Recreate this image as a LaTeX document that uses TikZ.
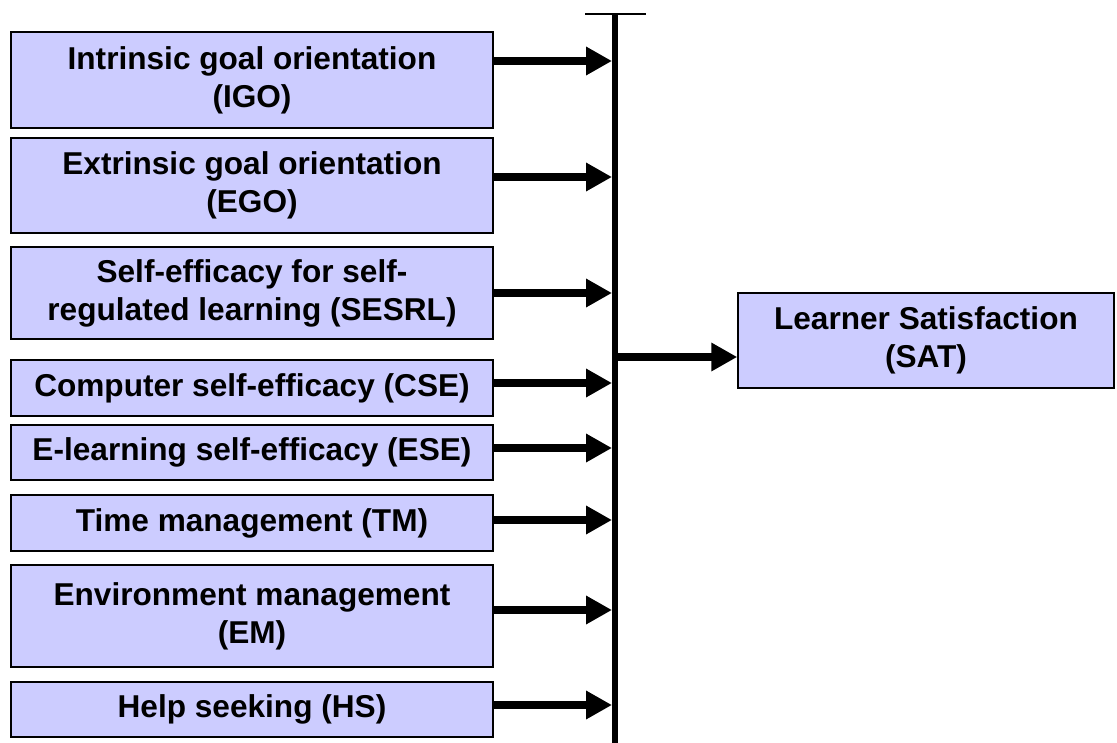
\documentclass[tikz,border=0pt]{standalone}
\usepackage{fontspec}
\setmainfont{Liberation Sans}
\usetikzlibrary{arrows.meta}
\definecolor{boxfill}{HTML}{CCCCFF}
\begin{document}
\begin{tikzpicture}[x=1pt,y=-1pt,
  factor/.style={draw=black,line width=1.5pt,fill=boxfill,minimum width=482pt,inner sep=0pt,
    align=center,font=\fontsize{31.6}{38}\selectfont\bfseries},
  feed/.style={line width=8pt,-{Triangle[length=26pt,width=27pt]}},
  barline/.style={line width=6pt}]
\useasboundingbox (0,0) rectangle (1117,742);
% left boxes
\node[factor,minimum height=96pt]  (igo)   at (252,80)    {Intrinsic goal orientation\\(IGO)};
\node[factor,minimum height=95pt]  (ego)   at (252,185.5) {Extrinsic goal orientation\\(EGO)};
\node[factor,minimum height=92pt]  (sesrl) at (252,293)   {Self-efficacy for self-\\regulated learning (SESRL)};
\node[factor,minimum height=56pt]  (cse)   at (252,388)   {Computer self-efficacy (CSE)};
\node[factor,minimum height=55pt]  (ese)   at (252,452.5) {E-learning self-efficacy (ESE)};
\node[factor,minimum height=56pt]  (tm)    at (252,523)   {Time management (TM)};
\node[factor,minimum height=102pt] (em)    at (252,616)   {Environment management\\(EM)};
\node[factor,minimum height=55pt]  (hs)    at (252,709.5) {Help seeking (HS)};
% outcome box
\node[factor,minimum width=376pt,minimum height=95pt] (sat) at (926,340.5) {Learner Satisfaction\\(SAT)};
% bar
\coordinate (bartop) at (615,14);
\coordinate (barbot) at (615,746);
\coordinate (tickl) at (585,14);
\coordinate (tickr) at (646,14);
\draw[barline] (bartop) -- (barbot);
\draw[line width=2pt] (tickl) -- (tickr);
% arrow targets on the bar
\coordinate (t1) at (612,61);
\coordinate (t2) at (612,177);
\coordinate (t3) at (612,293);
\coordinate (t4) at (612,383);
\coordinate (t5) at (612,448);
\coordinate (t6) at (612,520);
\coordinate (t7) at (612,610);
\coordinate (t8) at (612,705);
\draw[feed] (igo.east |- t1) -- (t1);
\draw[feed] (ego.east |- t2) -- (t2);
\draw[feed] (sesrl.east |- t3) -- (t3);
\draw[feed] (cse.east |- t4) -- (t4);
\draw[feed] (ese.east |- t5) -- (t5);
\draw[feed] (tm.east |- t6) -- (t6);
\draw[feed] (em.east |- t7) -- (t7);
\draw[feed] (hs.east |- t8) -- (t8);
% output
\coordinate (out) at (618,357);
\draw[feed] (out) -- (sat.west |- out);
\end{tikzpicture}
\end{document}
